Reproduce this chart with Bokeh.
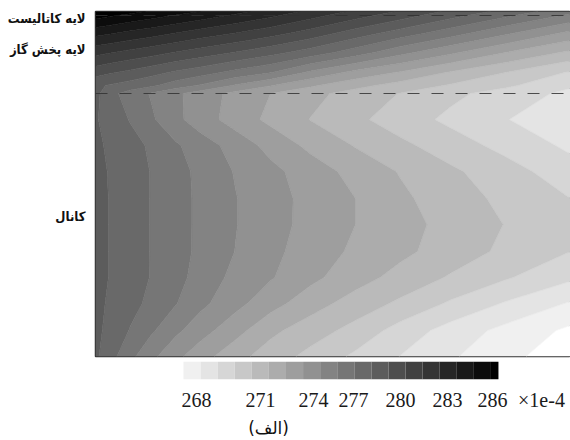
from bokeh.embed import file_html
from bokeh.resources import INLINE
from bokeh.plotting import figure
from bokeh.layouts import column
from bokeh.models import FixedTicker, LinearAxis, Span, Range1d
import numpy as np

# --- data (z in units of 1e-4) ---
length = [0, 15, 35, 55, 80, 105, 140, 175, 215, 260, 305, 355, 410, 475]
depth = [0, 4, 22, 41, 61, 74, 82, 108, 134, 160, 187, 213, 240, 266, 292, 319, 345]

z00 = [286.0, 285.7, 285.3, 284.9, 284.4, 284.0, 283.3, 282.6, 281.8, 280.8, 279.9, 278.8, 277.7, 276.3]
z01 = [285.4, 285.1, 284.75, 284.4, 283.95, 283.5, 282.85, 282.2, 281.35, 280.4, 279.45, 278.35, 277.2, 275.8]
z02 = [283.3, 283.05, 282.7, 282.4, 281.95, 281.5, 280.95, 280.35, 279.55, 278.5, 277.5, 276.4, 275.15, 273.7]
z03 = [281.3, 281.05, 280.7, 280.4, 279.95, 279.55, 278.95, 278.35, 277.55, 276.5, 275.3, 274.2, 273.0, 271.8]
z04 = [279.4, 279.1, 278.75, 278.35, 277.85, 277.4, 276.7, 276.05, 274.8, 273.7, 272.9, 271.9, 271.0, 269.9]
z4b = [278.2, 277.9, 277.55, 277.2, 276.5, 275.9, 274.9, 274.05, 273.15, 272.3, 271.6, 270.9, 270.2, 269.15]
z05 = [278.3, 277.3, 276.55, 275.94, 275.2, 274.53, 273.7, 273.0, 272.3, 271.6, 270.96, 270.25, 269.56, 268.75]
z06 = [278.1, 277.58, 276.93, 276.19, 275.26, 274.49, 273.56, 272.76, 271.97, 271.22, 270.51, 269.77, 269.04, 268.4]
z07 = [278.2, 277.83, 277.36, 276.86, 276.14, 275.5, 274.6, 273.67, 272.76, 271.94, 271.23, 270.5, 269.68, 268.8]
z08 = [278.25, 277.93, 277.45, 276.98, 276.37, 275.76, 274.93, 274.28, 273.5, 272.67, 271.93, 271.18, 270.43, 269.4]
z09 = [278.3, 277.95, 277.46, 276.98, 276.38, 275.8, 275.04, 274.39, 273.7, 273.0, 272.2, 271.47, 270.76, 270.0]
z10 = [278.3, 277.95, 277.46, 276.98, 276.38, 275.8, 275.04, 274.38, 273.69, 273.0, 272.36, 271.68, 270.97, 270.3]
z11 = [278.3, 277.95, 277.46, 276.98, 276.38, 275.79, 274.98, 274.27, 273.53, 272.82, 272.24, 271.54, 270.79, 270.0]
z12 = [278.3, 277.95, 277.46, 276.97, 276.36, 275.6, 274.73, 274.09, 273.26, 272.41, 271.66, 270.9, 270.11, 269.19]
z13 = [278.25, 277.86, 277.32, 276.77, 276.06, 275.26, 274.31, 273.39, 272.43, 271.57, 270.81, 269.86, 268.91, 267.9]
z14 = [278.25, 277.7, 276.93, 276.19, 275.23, 274.41, 273.37, 272.24, 271.48, 270.66, 269.6, 268.6, 267.71, 266.8]
z15 = [278.2, 277.35, 276.26, 275.29, 274.27, 273.42, 272.35, 271.52, 270.7, 269.81, 268.97, 268.13, 267.3, 266.35]

levels = list(range(266, 288))
grays = [255, 240, 228, 214, 200, 186, 172, 158, 145, 131, 118, 105, 92, 78, 65, 52, 38, 25, 12, 0, 0]
edge_grays = [255, 247, 234, 221, 207, 193, 179, 165, 151, 138, 124, 111, 98, 85, 71, 58, 45, 31, 18, 6, 0, 0]

bar_edges = [267, 268, 269, 270, 271, 272, 273, 274, 275, 276, 277, 278, 279, 280, 281, 282, 283, 284, 285, 285.44]
bar_grays = [240, 228, 214, 200, 186, 172, 158, 145, 131, 118, 105, 92, 78, 65, 52, 38, 25, 12, 0]

tick_labels = ["268", "271", "274", "277", "280", "283", "286", "×1e-4"]
tick_places = [267.76, 271.51, 274.61, 276.95, 279.7, 282.46, 285.09, 287.96]

layer_names = ["لایه کاتالیست", "لایه پخش گاز", "کانال"]
layer_depths = [7, 38, 205]
layer_borders = [4, 82]
caption = "(الف)"
caption_place = [271.98]

def hexg(g):
    return "#%02x%02x%02x" % (g, g, g)

Z = np.array([z00, z01, z02, z03, z04, z4b, z05, z06, z07, z08, z09, z10, z11, z12, z13, z14, z15])

p = figure(width=570, height=358, output_backend="svg", toolbar_location=None,
           x_range=Range1d(0, 475), y_range=Range1d(345, 0),
           min_border_left=95, min_border_right=0, min_border_top=11, min_border_bottom=2,
           background_fill_color="#ffffff", border_fill_color="#ffffff")
p.contour(length, depth, Z, levels, fill_color=[hexg(g) for g in grays],
          line_color=[hexg(g) for g in edge_grays], line_width=0.8)
p.grid.visible = False
p.xaxis.visible = False
ax = p.yaxis[0]
ax.ticker = FixedTicker(ticks=layer_depths)
ax.major_label_overrides = dict(zip(layer_depths, layer_names))
ax.major_tick_line_color = None
ax.minor_tick_line_color = None
ax.major_tick_out = 0
ax.major_tick_in = 0
ax.axis_line_color = None
ax.major_label_standoff = 10
ax.major_label_text_font = "DejaVu Sans Condensed"
ax.major_label_text_font_style = "bold"
ax.major_label_text_font_size = "13px"
ax.major_label_text_color = "#111111"
p.outline_line_color = "#333333"
p.outline_line_width = 1.5
for d in layer_borders:
    p.add_layout(Span(location=d, dimension="width", line_color="#333333", line_width=1.2,
                      line_dash="12 12", line_alpha=0.85))

scale = 17.08
c = figure(width=570, height=82, output_backend="svg", toolbar_location=None,
           x_range=Range1d(267 + (95 - 183) / scale, 267 + 387 / scale), y_range=Range1d(0, 1),
           min_border_left=95, min_border_right=0, min_border_top=3, min_border_bottom=58,
           background_fill_color="#ffffff", border_fill_color="#ffffff")
c.quad(left=bar_edges[:-1], right=bar_edges[1:], bottom=0, top=1,
       fill_color=[hexg(g) for g in bar_grays], line_color=None)
c.grid.visible = False
c.yaxis.visible = False
c.outline_line_color = None
bx = c.xaxis[0]
bx.ticker = FixedTicker(ticks=tick_places)
bx.major_label_overrides = dict(zip(tick_places, tick_labels))
bx.major_tick_line_color = None
bx.minor_tick_line_color = None
bx.major_tick_out = 0
bx.major_tick_in = 0
bx.axis_line_color = None
bx.major_label_standoff = 9
bx.major_label_text_font = "Liberation Serif"
bx.major_label_text_font_size = "20px"
bx.major_label_text_color = "#1a1a1a"

cap = LinearAxis(ticker=FixedTicker(ticks=caption_place),
                 major_label_overrides={caption_place[0]: caption},
                 major_tick_line_color=None, minor_tick_line_color=None,
                 major_tick_out=0, major_tick_in=0, axis_line_color=None,
                 major_label_standoff=4, major_label_text_font="DejaVu Sans",
                 major_label_text_font_size="17px", major_label_text_color="#111111")
c.add_layout(cap, "below")

layout = column(p, c, spacing=0, margin=(0, 0, 0, 0))
open("out.html", "w").write(file_html(layout, INLINE))
